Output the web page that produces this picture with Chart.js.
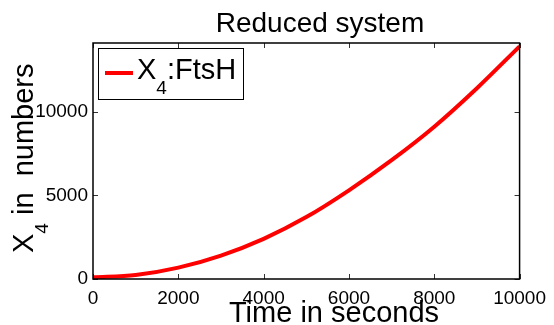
<!DOCTYPE html>
<html>
<head>
    <title>Reduced system</title>
    <meta charset="UTF-8">
    <script src="https://cdn.jsdelivr.net/npm/chart.js"></script>
    <style>
        body { margin: 0; background: #fff; }
        canvas { display: block; }
    </style>
</head>
<body>
    <canvas id="chart" width="554" height="325"></canvas>
    <script>
        // data
        var times = [0, 1000, 2000, 3000, 4000, 5000, 6000, 7000, 8000, 9000, 10000];
        var ftsh = [100, 240, 680, 1400, 2400, 3700, 5300, 7100, 9100, 11400, 13900];
        var xTicks = [0, 2000, 4000, 6000, 8000, 10000];
        var yTicks = [0, 5000, 10000];

        var FONT = '"Liberation Sans", Arial, sans-serif';

        // text with a subscript, drawn at (0,0) in the current transform
        function drawSub(ctx, main, sub, rest, size) {
            ctx.font = size + 'px ' + FONT;
            ctx.fillText(main, 0, 0);
            var x = ctx.measureText(main).width;
            ctx.font = Math.round(size * 0.66) + 'px ' + FONT;
            ctx.fillText(sub, x, size * 0.5);
            x += ctx.measureText(sub).width;
            ctx.font = size + 'px ' + FONT;
            ctx.fillText(rest, x, 0);
        }

        var decorPlugin = {
            id: 'decor',
            afterDraw: function(chart) {
                var ctx = chart.ctx;
                var a = chart.chartArea;
                var xs = chart.scales.x, ys = chart.scales.y;
                ctx.save();

                // inward ticks on all four sides
                ctx.strokeStyle = '#333';
                ctx.lineWidth = 1;
                ctx.beginPath();
                xs.ticks.forEach(function(t) {
                    var p = Math.round(xs.getPixelForValue(t.value)) + 0.5;
                    ctx.moveTo(p, a.bottom); ctx.lineTo(p, a.bottom - 5);
                    ctx.moveTo(p, a.top); ctx.lineTo(p, a.top + 5);
                });
                ys.ticks.forEach(function(t) {
                    var p = Math.round(ys.getPixelForValue(t.value)) + 0.5;
                    ctx.moveTo(a.left, p); ctx.lineTo(a.left + 5, p);
                    ctx.moveTo(a.right, p); ctx.lineTo(a.right - 5, p);
                });
                ctx.stroke();

                // box
                ctx.strokeStyle = '#000';
                ctx.lineWidth = 1.5;
                ctx.strokeRect(a.left, a.top, a.right - a.left, a.bottom - a.top);

                ctx.fillStyle = '#000';
                ctx.textBaseline = 'alphabetic';

                // title
                ctx.font = '28px ' + FONT;
                ctx.textAlign = 'center';
                ctx.fillText('Reduced system', 320, 32);

                // x axis title
                ctx.font = '29px ' + FONT;
                ctx.fillText('Time in seconds', 334, 322);

                // y axis title
                ctx.textAlign = 'left';
                ctx.save();
                ctx.translate(33, 253);
                ctx.rotate(-Math.PI / 2);
                drawSub(ctx, 'X', '4', ' in  numbers', 29);
                ctx.restore();

                // legend
                var ds = chart.data.datasets[0];
                ctx.fillStyle = '#fff';
                ctx.fillRect(98, 48, 145, 51);
                ctx.strokeStyle = '#000';
                ctx.lineWidth = 1;
                ctx.strokeRect(98.5, 48.5, 145, 51);
                ctx.strokeStyle = ds.borderColor;
                ctx.lineWidth = 4;
                ctx.beginPath();
                ctx.moveTo(105, 73); ctx.lineTo(133, 73);
                ctx.stroke();
                ctx.fillStyle = '#000';
                ctx.save();
                ctx.translate(137, 79);
                drawSub(ctx, 'X', '4', ':FtsH', 29);
                ctx.restore();

                ctx.restore();
            }
        };

        var points = times.map(function(t, i) { return { x: t, y: ftsh[i] }; });

        var chart = new Chart(document.getElementById('chart').getContext('2d'), {
            type: 'line',
            data: {
                datasets: [{
                    label: 'X4:FtsH',
                    data: points,
                    borderColor: 'rgb(255, 0, 0)',
                    borderWidth: 4,
                    pointRadius: 0,
                    fill: false,
                    cubicInterpolationMode: 'monotone'
                }]
            },
            options: {
                responsive: false,
                devicePixelRatio: 1,
                animation: false,
                layout: { padding: { top: 43, right: 31, left: 0, bottom: 0 } },
                plugins: { legend: { display: false }, title: { display: false }, tooltip: { enabled: false } },
                scales: {
                    x: {
                        type: 'linear',
                        min: 0,
                        max: 10000,
                        afterBuildTicks: function(s) { s.ticks = xTicks.map(function(v) { return { value: v }; }); },
                        afterFit: function(s) { s.height = 46; },
                        grid: { display: false, drawTicks: false },
                        border: { display: false },
                        ticks: {
                            color: '#000',
                            padding: 8,
                            maxRotation: 0,
                            font: { family: FONT, size: 19 },
                            callback: function(v) { return String(v); }
                        }
                    },
                    y: {
                        type: 'linear',
                        min: 0,
                        max: 14100,
                        afterBuildTicks: function(s) { s.ticks = yTicks.map(function(v) { return { value: v }; }); },
                        afterFit: function(s) { s.width = 93; },
                        grid: { display: false, drawTicks: false },
                        border: { display: false },
                        ticks: {
                            color: '#000',
                            padding: 5,
                            font: { family: FONT, size: 19 },
                            callback: function(v) { return String(v); }
                        }
                    }
                }
            },
            plugins: [decorPlugin]
        });
    </script>
</body>
</html>
